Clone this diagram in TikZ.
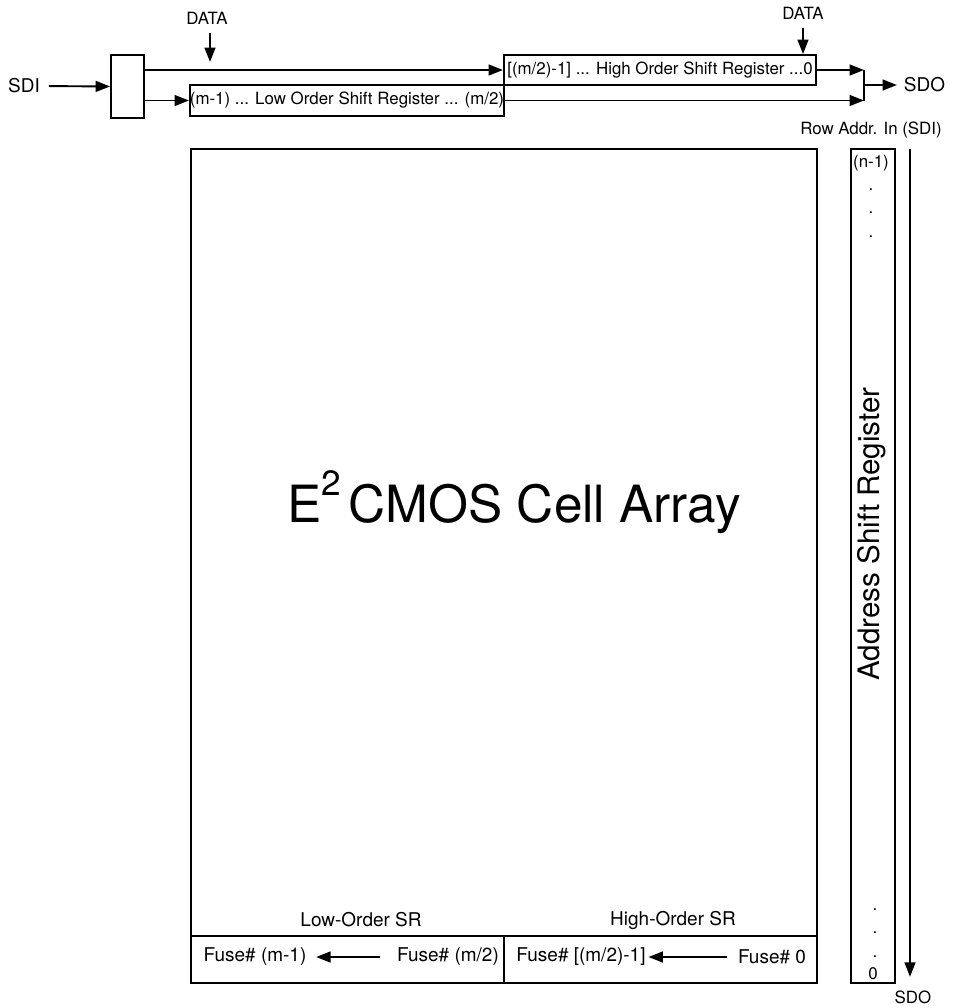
\documentclass[tikz,border=0pt]{standalone}
\usepackage{fontspec}
\setmainfont{TeX Gyre Heros}
\usetikzlibrary{arrows.meta}

\begin{document}
\begin{tikzpicture}[x=0.025cm, y=-0.025cm, line width=1.35pt,
    >={Triangle[length=3.6mm, width=2.7mm]},
    lbl/.style={inner sep=0pt, font=\fontsize{12}{14}\selectfont},
    biglbl/.style={inner sep=0pt, font=\fontsize{13.5}{16}\selectfont},
    regbox/.style={draw, inner sep=0pt, font=\fontsize{12}{14}\selectfont}]
    \useasboundingbox (0,0) rectangle (968,1008);

    % Input stage and the two data shift registers
    \node[biglbl] (sdi) at (24,86) {SDI};
    \node[draw, inner sep=0pt, minimum width=0.825cm, minimum height=1.575cm] (sel) at (127.5,86.5) {};
    \node[regbox, minimum width=7.85cm, minimum height=0.775cm] (low) at (347,100.5)
        {(m-1) ... Low Order Shift Register ... (m/2)};
    \node[regbox, minimum width=7.8cm, minimum height=0.75cm] (high) at (660,70)
        {[(m/2)-1] ... High Order Shift Register ...0};
    \draw[->, shorten <=2mm] (sdi.east) -- (sel.west);
    \draw[->] (sel.east |- high.west) -- (high.west);
    \draw[->] (sel.east |- low.west) -- (low.west);

    % DATA inputs
    \node[lbl] (data1) at (207,18) {DATA};
    \coordinate (data1tip) at (210,62);
    \draw[->, shorten <=2mm] (data1.south -| data1tip) -- (data1tip);
    \node[lbl] (data2) at (803,13) {DATA};
    \draw[->, shorten <=2mm] (data2.south) -- (data2.south |- high.north);

    % Output junction
    \coordinate (jn) at (864,85);
    \node[biglbl, anchor=west] (sdo1) at (903,85) {SDO};
    \draw[->] (high.east) -- (high.east -| jn);
    \draw[->] (low.east) -- (low.east -| jn);
    \draw (jn |- high.east) -- (jn |- low.east);
    \draw[->, shorten >=1.5mm] (jn) -- (sdo1.west);

    % Cell array with fuse shift registers
    \node[draw, inner sep=0pt, minimum width=15.65cm, minimum height=20.85cm] (array) at (504,566) {};
    \node[inner sep=0pt, anchor=base, font=\fontsize{36.5}{40}\selectfont] (title) at (514,522)
        {E\raisebox{0.675cm}{\fontsize{25}{28}\selectfont 2}\hspace{0.15em}CMOS Cell Array};
    \coordinate (fuserow) at (504,936);
    \draw (array.west |- fuserow) -- (array.east |- fuserow);
    \draw (fuserow) -- (fuserow |- array.south);
    \node[biglbl] (lowsr) at (361,920) {Low-Order SR};
    \node[biglbl] (highsr) at (673,920) {High-Order SR};
    \node[biglbl] (fm1) at (255,957) {Fuse\# (m-1)};
    \node[biglbl] (fm2) at (448,957) {Fuse\# (m/2)};
    \node[biglbl] (fh1) at (581,957) {Fuse\# [(m/2)-1]};
    \node[biglbl] (fh0) at (772,957) {Fuse\# 0};
    \draw[->, shorten <=4mm, shorten >=2.2mm] (fm2.west) -- (fm1.east);
    \draw[->, shorten <=2.5mm, shorten >=0.5mm] (fh0.west) -- (fh1.east);

    % Address shift register
    \node[lbl] (rowin) at (871,130) {Row Addr. In (SDI)};
    \node[draw, inner sep=0pt, minimum width=1.1cm, minimum height=20.85cm] (addr) at (873,566) {};
    \node[lbl] (nfirst) at (871,163) {(n-1)};
    \foreach \y [count=\i] in {190,213,237}
        \node[lbl] (tdot\i) at (871,\y) {.};
    \foreach \y [count=\i] in {910,933,957}
        \node[lbl] (bdot\i) at (875,\y) {.};
    \node[lbl] (nlast) at (873,974) {0};
    \node[inner sep=0pt, rotate=90, font=\fontsize{21}{24}\selectfont] (addrlbl) at (872,534) {Address Shift Register};
    \coordinate (ain) at (910,149);
    \node[lbl] (sdo2) at (913,997) {SDO};
    \draw[->, shorten >=3.2mm] (ain) -- (ain |- sdo2.north);
\end{tikzpicture}
\end{document}
